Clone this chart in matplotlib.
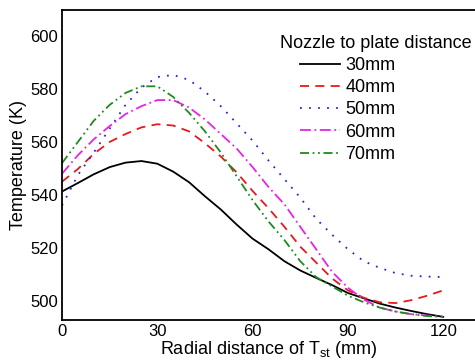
import matplotlib
matplotlib.use("Agg")
import matplotlib.pyplot as plt

plt.rcParams['font.family'] = ['Liberation Sans', 'DejaVu Sans']

x_mm = [0, 5, 10, 15, 20, 25, 30, 35, 40, 45, 50, 55, 60, 65, 70, 75, 80, 85, 90, 95, 100, 105, 110, 115, 120]

t_30 = [541.3, 544.5, 547.8, 550.5, 552.2, 552.8, 551.8, 548.8, 544.8, 539.5, 534.5, 528.8, 523.5,
        519.5, 515.0, 511.5, 508.7, 506.0, 503.0, 501.0, 499.0, 497.5, 496.2, 495.0, 494.0]
t_40 = [545.0, 549.8, 555.5, 560.0, 563.0, 565.5, 566.7, 566.2, 564.0, 559.5, 554.5, 548.5, 541.5,
        535.0, 528.0, 520.5, 514.5, 508.5, 504.0, 501.2, 499.5, 499.2, 500.3, 502.0, 504.0]
t_50 = [536.0, 547.5, 556.0, 565.0, 574.0, 580.5, 584.5, 585.3, 583.4, 579.0, 573.5, 567.0, 560.5,
        553.0, 546.0, 539.0, 531.0, 525.0, 519.5, 515.0, 512.5, 510.5, 509.5, 509.2, 509.0]
t_60 = [548.0, 555.0, 561.0, 566.0, 570.5, 573.5, 575.8, 575.8, 573.0, 568.5, 563.0, 557.5, 550.5,
        543.0, 536.5, 528.0, 519.5, 511.0, 505.0, 500.5, 497.5, 496.0, 495.0, 494.5, 494.0]
t_70 = [552.0, 560.0, 568.0, 574.0, 578.5, 581.0, 581.0, 577.0, 571.0, 564.0, 556.0, 547.0, 538.0,
        530.0, 523.0, 515.0, 509.0, 505.5, 502.0, 499.5, 497.5, 496.0, 495.0, 494.3, 494.0]

labels = ['30mm', '40mm', '50mm', '60mm', '70mm']
legend_title = 'Nozzle to plate distance'
xticks = [0, 30, 60, 90, 120]
yticks = [500, 520, 540, 560, 580, 600]

series = [t_30, t_40, t_50, t_60, t_70]
colors = ['black', '#e8191e', '#2a24d6', '#e624e6', '#1f8a1f']
styles = ['-', (0, (5, 3.5)), (0, (1, 4)), (0, (6, 2, 1, 2)), (0, (5, 2, 1, 2, 1, 2))]

W, H = 475, 360
fig = plt.figure(figsize=(4.75, 3.6), dpi=100)
ax = fig.add_axes([62/W, 1-319.5/H, 1-62/W, (319.5-10)/H])

for ys, c, ls, lab in zip(series, colors, styles, labels):
    ax.plot(x_mm, ys, color=c, linestyle=ls, linewidth=1.3, label=lab)

ax.set_xlim(0, 130)
ax.set_ylim(493, 609.8)
ax.set_xticks(xticks)
ax.set_yticks(yticks)
ax.tick_params(length=0, labelsize=12, pad=3, colors='black')
ax.spines['right'].set_visible(False)
for s in ['left', 'bottom', 'top']:
    ax.spines[s].set_linewidth(1.3)

ax.set_xlabel('Radial distance of T$_{\\mathregular{st}}$ (mm)', fontsize=13, labelpad=0)
ax.set_ylabel('Temperature (K)', fontsize=13, labelpad=2)

fig.text(280/W, 1-43/H, legend_title, fontsize=13, ha='left', va='center')
leg = ax.legend(frameon=False, fontsize=13, loc='upper left',
                bbox_to_anchor=(300/W, 1-57/H), bbox_transform=fig.transFigure,
                handlelength=2.2, handletextpad=0.3, labelspacing=0.29,
                borderaxespad=0.0, borderpad=0.0)

fig.savefig('out.png', dpi=100)
